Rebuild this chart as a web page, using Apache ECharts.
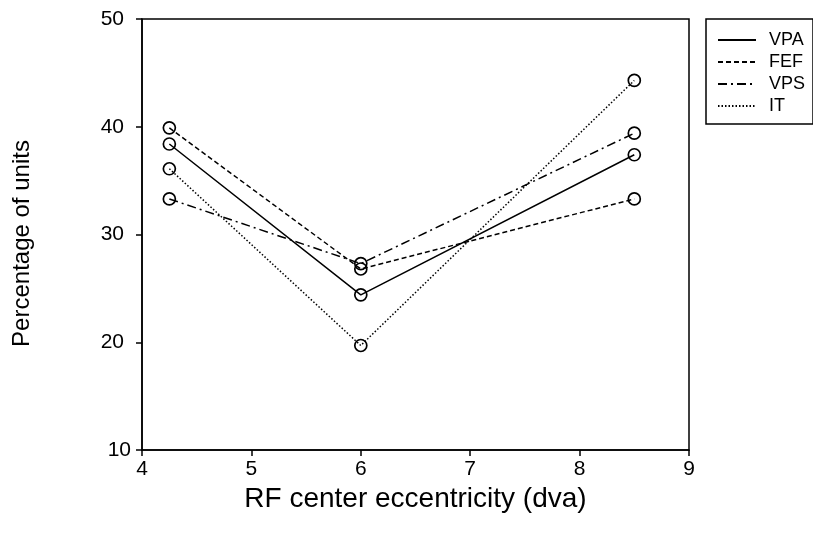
<!DOCTYPE html>
<html>
<head>
<meta charset="utf-8">
<script src="https://cdn.jsdelivr.net/npm/echarts@6/dist/echarts.min.js"></script>
<style>html,body{margin:0;padding:0;background:#fff}#c{width:813px;height:549px}</style>
</head>
<body>
<div id="c"></div>
<script>
var xValues = [4.25, 6, 8.5];
var seriesNames = ['VPA', 'FEF', 'VPS', 'IT'];
var vpa = [38.4, 24.4, 37.4];
var fef = [39.9, 26.8, 33.3];
var vps = [33.3, 27.3, 39.4];
var it = [36.1, 19.7, 44.3];
var xTicks = [4, 5, 6, 7, 8, 9];
var yTicks = [10, 20, 30, 40, 50];

var font = 'Liberation Sans, Arial, sans-serif';
var dashes = { VPA: 'solid', FEF: [5, 3], VPS: [9, 4, 2, 4], IT: [1.5, 2] };
var dataMap = { VPA: vpa, FEF: fef, VPS: vps, IT: it };

var chart = echarts.init(document.getElementById('c'), null, { renderer: 'canvas' });
var series = seriesNames.map(function (n) {
  return {
    name: n,
    type: 'line',
    data: xValues.map(function (x, i) { return [x, dataMap[n][i]]; }),
    symbol: 'circle',
    symbolSize: 12,
    showAllSymbol: true,
    lineStyle: { color: '#000', width: 1.5, type: dashes[n] },
    itemStyle: { color: 'rgba(0,0,0,0)', borderColor: '#000', borderWidth: 1.7 },
    emphasis: { disabled: true },
    animation: false
  };
});

chart.setOption({
  animation: false,
  backgroundColor: '#fff',
  grid: { left: 142, right: 124, top: 19, bottom: 99, show: true, borderColor: '#000', borderWidth: 1.5, containLabel: false },
  legend: {
    data: seriesNames,
    orient: 'vertical',
    left: 706,
    top: 19,
    padding: [12, 8, 9, 11],
    itemGap: 4,
    itemWidth: 38,
    itemHeight: 14,
    borderColor: '#000',
    borderWidth: 1.5,
    textStyle: { color: '#000', fontFamily: font, fontSize: 18, lineHeight: 18, padding: [0, 0, 0, 8] },
    itemStyle: { opacity: 0 },
    inactiveColor: '#000'
  },
  xAxis: {
    type: 'value',
    min: 4, max: 9, interval: 1,
    name: 'RF center eccentricity (dva)',
    nameLocation: 'middle',
    nameGap: 34,
    nameTextStyle: { color: '#000', fontFamily: font, fontSize: 28 },
    axisLine: { show: true, onZero: false, lineStyle: { color: '#000', width: 1.5 } },
    axisTick: { show: true, inside: false, length: 6, lineStyle: { color: '#000', width: 1.5 } },
    axisLabel: { color: '#000', fontFamily: font, fontSize: 21, margin: 9, formatter: function (v) { return xTicks.indexOf(v) >= 0 ? String(v) : ''; } },
    splitLine: { show: false }
  },
  yAxis: {
    type: 'value',
    min: 10, max: 50, interval: 10,
    name: 'Percentage of units',
    nameLocation: 'middle',
    nameGap: 108,
    nameRotate: 90,
    nameTextStyle: { color: '#000', fontFamily: font, fontSize: 24, padding: [0, 18, 0, 0] },
    axisLine: { show: true, onZero: false, lineStyle: { color: '#000', width: 1.5 } },
    axisTick: { show: true, inside: false, length: 6, lineStyle: { color: '#000', width: 1.5 } },
    axisLabel: {
      color: '#000', fontFamily: font, fontSize: 21, margin: 11,
      formatter: function (v) {
        if (yTicks.indexOf(v) < 0) return '';
        return v === yTicks[0] ? '{a|' + v + '}' : '{b|' + v + '}';
      },
      rich: {
        a: { color: '#000', fontFamily: font, fontSize: 21 },
        b: { color: '#000', fontFamily: font, fontSize: 21, padding: [0, 7, 0, 0] }
      }
    },
    splitLine: { show: false }
  },
  series: series
});
</script>
</body>
</html>
